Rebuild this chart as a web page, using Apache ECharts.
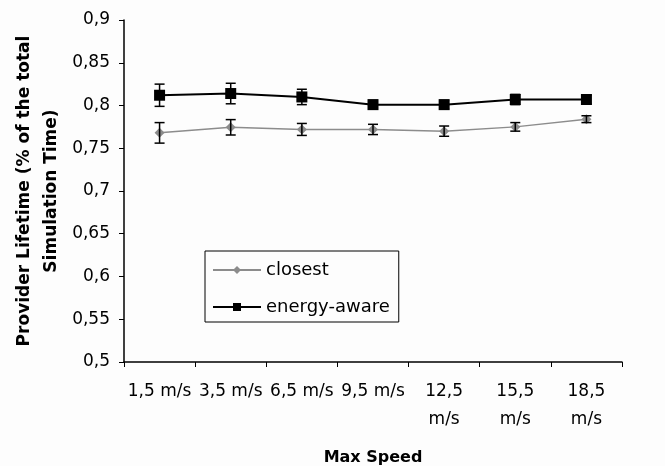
<!DOCTYPE html>
<html><head><meta charset="utf-8">
<script src="https://cdn.jsdelivr.net/npm/echarts@6/dist/echarts.min.js"></script>
<style>html,body{margin:0;padding:0;background:#fdfdfd}#c{width:665px;height:466px}</style>
</head><body><div id="c"></div>
<script>
const categories = ['1,5 m/s','3,5 m/s','6,5 m/s','9,5 m/s','12,5\nm/s','15,5\nm/s','18,5\nm/s'];
const closest = [0.768, 0.7745, 0.772, 0.772, 0.770, 0.775, 0.784];
const closestErr = [0.012, 0.009, 0.007, 0.006, 0.006, 0.005, 0.004];
const energyAware = [0.812, 0.814, 0.810, 0.801, 0.801, 0.807, 0.807];
const energyErr = [0.013, 0.012, 0.009, 0.005, 0.005, 0.006, 0.005];
const yTicks = {min: 0.5, max: 0.9, interval: 0.05};

const font = '"DejaVu Sans", Verdana, sans-serif';
function errData(vals, errs){ return vals.map((v,i)=>[i, v-errs[i], v+errs[i]]); }
function errRender(params, api){
  const x = api.value(0);
  const lo = api.coord([x, api.value(1)]);
  const hi = api.coord([x, api.value(2)]);
  const w = 5;
  const st = {stroke:'#000', lineWidth:1.5, fill:null};
  return {type:'group', children:[
    {type:'line', shape:{x1:lo[0],y1:lo[1],x2:hi[0],y2:hi[1]}, style:st},
    {type:'line', shape:{x1:lo[0]-w,y1:lo[1],x2:lo[0]+w,y2:lo[1]}, style:st},
    {type:'line', shape:{x1:hi[0]-w,y1:hi[1],x2:hi[0]+w,y2:hi[1]}, style:st}
  ]};
}
const chart = echarts.init(document.getElementById('c'), null, {renderer:'canvas'});
chart.setOption({
  backgroundColor:'#fdfdfd',
  animation:false,
  textStyle:{fontFamily:font},
  grid:{left:124, right:43, top:20, bottom:104, outerBoundsMode:'none', containLabel:false},
  legend:{
    orient:'vertical', left:205, top:251,
    padding:[10,9,6,7], itemGap:19, itemWidth:48, itemHeight:10,
    borderColor:'#000', borderWidth:1, borderRadius:0, backgroundColor:'#fdfdfd',
    textStyle:{fontSize:18, color:'#000', fontFamily:font},
    data:['closest','energy-aware']
  },
  xAxis:{
    type:'category', data:categories,
    name:'Max Speed', nameLocation:'middle', nameGap:88, nameMoveOverlap:false,
    nameTextStyle:{fontSize:16, fontWeight:'bold', color:'#000', fontFamily:font},
    axisLine:{lineStyle:{color:'#000', width:1.5}},
    axisTick:{show:true, length:5, lineStyle:{color:'#000'}},
    axisLabel:{color:'#000', fontSize:17, margin:16, lineHeight:28, verticalAlign:'top', interval:0, fontFamily:font},
    splitLine:{show:false}
  },
  yAxis:{
    type:'value', min:yTicks.min, max:yTicks.max, interval:yTicks.interval,
    name:'Provider Lifetime (% of the total\nSimulation Time)', nameLocation:'middle', nameGap:59, nameRotate:90,
    nameMoveOverlap:false,
    nameTextStyle:{fontSize:17, fontWeight:'bold', color:'#000', lineHeight:27, align:'center', fontFamily:font},
    axisLine:{show:true, lineStyle:{color:'#000', width:1.5}},
    axisTick:{show:true, length:5, lineStyle:{color:'#000'}},
    axisLabel:{color:'#000', fontSize:17, margin:14, fontFamily:font,
      formatter:v=>String(Math.round(v*100)/100).replace('.',',')},
    splitLine:{show:false}
  },
  series:[
    {name:'closest', type:'line', data:closest, color:'#8c8c8c',
     symbol:'diamond', symbolSize:10, lineStyle:{width:1.5, color:'#8c8c8c'},
     itemStyle:{color:'#8c8c8c'}, z:3},
    {name:'energy-aware', type:'line', data:energyAware, color:'#000',
     symbol:'rect', symbolSize:11, lineStyle:{width:2, color:'#000'},
     itemStyle:{color:'#000'}, z:3},
    {type:'custom', renderItem:errRender, data:errData(closest, closestErr), z:4, silent:true},
    {type:'custom', renderItem:errRender, data:errData(energyAware, energyErr), z:4, silent:true}
  ]
});
</script></body></html>
